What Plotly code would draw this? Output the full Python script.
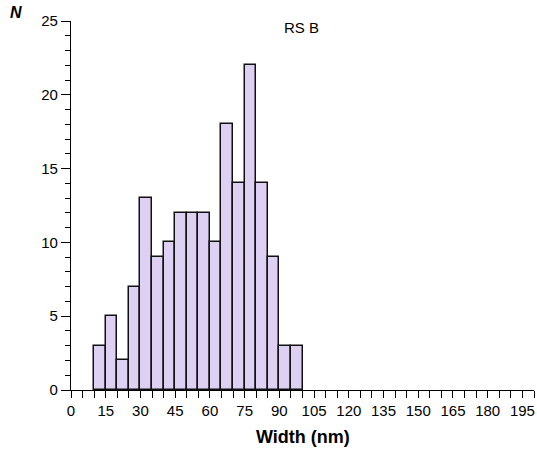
import plotly.graph_objects as go

bin_starts = [10, 15, 20, 25, 30, 35, 40, 45, 50, 55, 60, 65, 70, 75, 80, 85, 90, 95]
counts = [3, 5, 2, 7, 13, 9, 10, 12, 12, 12, 10, 18, 14, 22, 14, 9, 3, 3]
bin_width = 5
x_ticks = list(range(0, 200, 15))
y_ticks = [0, 5, 10, 15, 20, 25]

centers = [b + bin_width / 2 for b in bin_starts]

fig = go.Figure(go.Bar(
    x=centers, y=counts, width=[bin_width] * len(counts),
    marker=dict(color="#DDD0F3", line=dict(color="#111111", width=1.5)),
))

font = "Liberation Sans, Arial, sans-serif"
L, R, T, B = 71, 3, 21, 60
ph = 450 - T - B
pw = 537 - L - R
fig.update_layout(
    width=537, height=450,
    margin=dict(l=L, r=R, t=T, b=B),
    paper_bgcolor="white", plot_bgcolor="white",
    showlegend=False,
    font=dict(family=font, size=15, color="black"),
    bargap=0,
    annotations=[
        dict(text="RS B", x=(301.5 - L) / pw, y=1 - (27.5 - T) / ph, xref="paper", yref="paper",
             showarrow=False, font=dict(size=15, family=font), xanchor="center", yanchor="middle"),
        dict(text="<b><i>N</i></b>", x=(15.5 - L) / pw, y=1 + (T - 12.5) / ph, xref="paper", yref="paper",
             showarrow=False, font=dict(size=16, family=font), xanchor="center", yanchor="middle"),
        dict(text="<b>Width (nm)</b>", x=(303 - L) / pw, y=-(437 - (450 - B)) / ph, xref="paper", yref="paper",
             showarrow=False, font=dict(size=18, family=font), xanchor="center", yanchor="middle"),
    ],
)
fig.update_xaxes(
    range=[0, 200], tickvals=x_ticks, ticks="outside", ticklen=7, tickwidth=1.2,
    tickcolor="black", showline=True, linecolor="black", linewidth=1.2,
    showgrid=False, zeroline=False,
    minor=dict(dtick=5, tick0=0, ticks="outside", ticklen=7, tickwidth=1.2, tickcolor="black", showgrid=False),
    tickfont=dict(size=15),
)
fig.update_yaxes(
    range=[0, 25], tickvals=y_ticks, ticks="outside", ticklen=9, tickwidth=1.2,
    tickcolor="black", showline=True, linecolor="black", linewidth=1.2,
    showgrid=False, zeroline=False,
    minor=dict(dtick=1, tick0=0, ticks="outside", ticklen=5, tickwidth=1.2, tickcolor="black", showgrid=False),
    tickfont=dict(size=15),
)

fig.write_html("out.html")
